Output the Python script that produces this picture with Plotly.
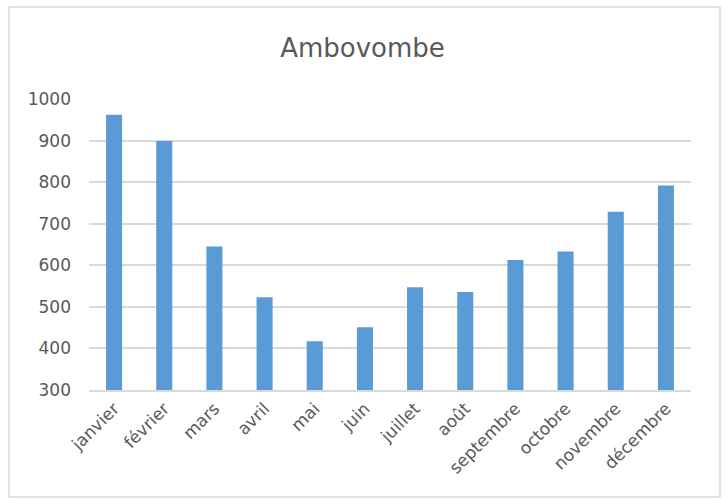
import plotly.graph_objects as go

# Monthly values for Ambovombe
months = ["janvier", "février", "mars", "avril", "mai", "juin",
          "juillet", "août", "septembre", "octobre", "novembre", "décembre"]
values = [962, 899, 645, 523, 417, 451, 547, 536, 613, 633, 729, 792]
y_ticks = [300, 400, 500, 600, 700, 800, 900, 1000]

TEXT = "#595959"
GRID = "#d9d9d9"
FONT = "DejaVu Sans"

W, H = 725, 504
ML, MR, MT, MB = 89, 34, 99, 114
pw, ph = W - ML - MR, H - MT - MB

fig = go.Figure(go.Bar(
    x=months, y=values,
    marker=dict(color="#5b9bd5", line=dict(width=0)),
    width=0.32,
))

# outer chart frame, in paper coordinates extending past the plot area
fx0 = (9 - ML) / pw
fx1 = (720 - ML) / pw
fy1 = (H - MB - 7) / ph
fy0 = (H - MB - 497) / ph

fig.update_layout(
    width=W, height=H,
    margin=dict(l=ML, r=MR, t=MT, b=MB),
    paper_bgcolor="white", plot_bgcolor="white",
    font=dict(family=FONT, color=TEXT, size=17),
    title=dict(text="Ambovombe", x=0.5, xanchor="center",
               y=1 - 48 / H, yanchor="middle",
               font=dict(family=FONT, size=26, color=TEXT)),
    showlegend=False,
    shapes=[dict(type="rect", xref="paper", yref="paper",
                 x0=fx0, x1=fx1, y0=fy0, y1=fy1,
                 line=dict(color=GRID, width=1.5), layer="below")],
    xaxis=dict(tickangle=-45, showgrid=False, showline=True,
               linecolor=GRID, linewidth=2, ticks="",
               tickfont=dict(size=17, color=TEXT)),
    yaxis=dict(range=[300, 1000], tickvals=y_ticks, showgrid=True,
               gridcolor=GRID, gridwidth=1.5, zeroline=False, showline=False,
               ticks="", ticklabelstandoff=17,
               tickfont=dict(size=17, color=TEXT)),
)

fig.write_html("out.html")
